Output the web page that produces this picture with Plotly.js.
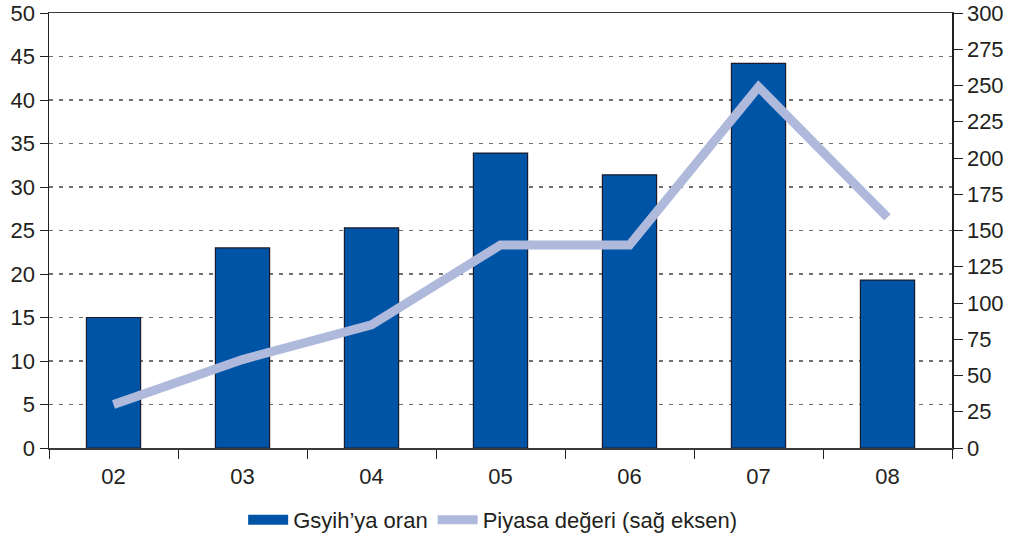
<!DOCTYPE html>
<html>
<head>
<meta charset="utf-8">
<script src="https://cdn.plot.ly/plotly-3.0.1.min.js"></script>
<style>html,body{margin:0;padding:0;background:#fff;}#chart{width:1014px;height:540px;}</style>
</head>
<body>
<div id="chart"></div>
<script>
const categories = ["02", "03", "04", "05", "06", "07", "08"];
const gsyihOran = [15.0, 23.0, 25.3, 33.9, 31.4, 44.2, 19.3];
const piyasaDegeri = [30, 61, 85, 140, 140, 249, 159];
const barName = "Gsyih\u2019ya oran";
const lineName = "Piyasa de\u011feri (sa\u011f eksen)";

const fam = "Liberation Sans, Arial, sans-serif";
const txt = "#231f20";
const barColor = "#0054a6";
const lineColor = "#aeb9dc";

const traces = [
  {
    type: "bar", x: categories, y: gsyihOran, name: barName, showlegend: false,
    marker: {color: barColor, line: {color: "#1a1a2a", width: 1.2}},
    yaxis: "y"
  },
  {
    type: "scatter", mode: "lines", x: [null], y: [null], name: barName,
    line: {color: barColor, width: 14}, hoverinfo: "skip", yaxis: "y"
  },
  {
    type: "scatter", mode: "lines", x: categories, y: piyasaDegeri, name: lineName,
    line: {color: lineColor, width: 9},
    yaxis: "y2"
  }
];

const layout = {
  width: 1014, height: 540,
  margin: {l: 49, r: 62, t: 13, b: 92, autoexpand: false},
  paper_bgcolor: "#fff", plot_bgcolor: "#fff",
  font: {family: fam, size: 22, color: txt},
  bargap: 0.58,
  showlegend: true,
  legend: {orientation: "h", xref: "paper", x: 0.215, xanchor: "left",
           yref: "container", y: 0.037, yanchor: "middle",
           font: {size: 22, family: fam, color: txt}, itemwidth: 40, tracegroupgap: 0},
  xaxis: {
    type: "category", tickson: "boundaries", ticks: "outside", ticklen: 9, tickcolor: txt,
    showline: true, linecolor: "#3a3a3a", linewidth: 1.5, mirror: true,
    showgrid: false, tickfont: {size: 22}, automargin: false, ticklabelstandoff: 8
  },
  yaxis: {
    range: [0, 50], dtick: 5, ticks: "outside", ticklen: 8, tickcolor: txt,
    showline: true, linecolor: txt, linewidth: 1.5,
    showgrid: true, gridcolor: "#707070", griddash: "4px,6px", gridwidth: 1.2,
    zeroline: false, tickfont: {size: 22}, automargin: false
  },
  yaxis2: {
    range: [0, 300], dtick: 25, overlaying: "y", side: "right",
    ticks: "outside", ticklen: 9, tickcolor: txt,
    showline: true, linecolor: txt, linewidth: 1.5,
    showgrid: false, zeroline: false, tickfont: {size: 22}, automargin: false
  }
};

Plotly.newPlot("chart", traces, layout, {displayModeBar: false, staticPlot: true});
</script>
</body>
</html>
